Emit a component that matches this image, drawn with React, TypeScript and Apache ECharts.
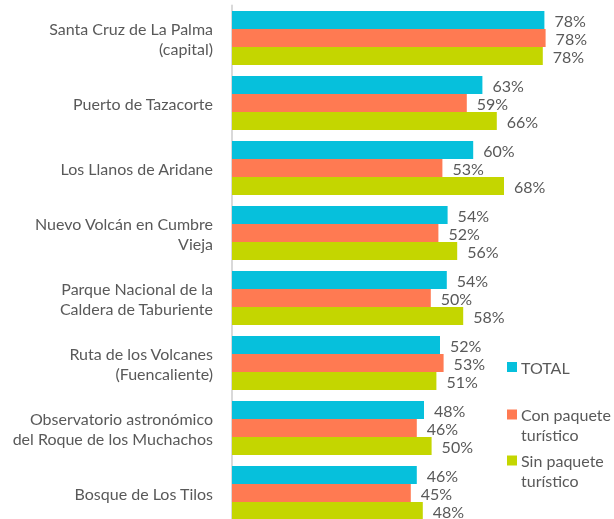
import React, { useEffect, useRef } from "react";
import * as echarts from "echarts";

const categories = [
  "Santa Cruz de La Palma\n(capital)",
  "Puerto de Tazacorte",
  "Los Llanos de Aridane",
  "Nuevo Volcán en Cumbre\nVieja",
  "Parque Nacional de la\nCaldera de Taburiente",
  "Ruta de los Volcanes\n(Fuencaliente)",
  "Observatorio astronómico\ndel Roque de los Muchachos",
  "Bosque de Los Tilos",
];

const seriesNames = ["TOTAL", "Con paquete turístico", "Sin paquete turístico"];
const legendLabels = ["TOTAL", "Con paquete\nturístico", "Sin paquete\nturístico"];

const totalValues = [78.1, 62.6, 60.3, 53.9, 53.7, 52.0, 48.0, 46.2];
const conPaqueteValues = [78.4, 58.7, 52.6, 51.6, 49.7, 52.9, 46.2, 44.7];
const sinPaqueteValues = [77.7, 66.2, 68.0, 56.3, 57.8, 51.1, 49.9, 47.7];

const colors = ["#06C0DC", "#FF7A52", "#C4D600"];
const textColor = "#595959";
const fontFamily = "Lato, 'Noto Sans', sans-serif";

export default function App() {
  const ref = useRef<HTMLDivElement>(null);

  useEffect(() => {
    if (!ref.current) return;
    const chart = echarts.init(ref.current, null, { renderer: "svg" });
    const allValues = [totalValues, conPaqueteValues, sinPaqueteValues];
    const legendY = [367, 414.5, 460.5];

    const graphic: any[] = [];
    legendLabels.forEach((lbl, i) => {
      graphic.push({
        type: "rect",
        left: 507,
        top: legendY[i] - 5,
        shape: { x: 0, y: 0, width: 10, height: 10 },
        style: { fill: colors[i] },
      });
      graphic.push({
        type: "text",
        left: 521,
        top: legendY[i] - 10,
        style: {
          text: lbl,
          fill: textColor,
          font: `16px ${fontFamily}`,
          lineHeight: 20,
          verticalAlign: "top",
        },
      });
    });

    chart.setOption({
      animation: false,
      textStyle: { fontFamily },
      grid: {
        left: 232,
        top: 5.5,
        width: 380,
        height: 520,
        outerBoundsMode: "none",
        containLabel: false,
      },
      xAxis: {
        type: "value",
        min: 0,
        max: 95,
        show: false,
      },
      yAxis: {
        type: "category",
        data: categories,
        inverse: true,
        offset: 1,
        axisLine: { show: true, lineStyle: { color: "#D9D9D9", width: 2 } },
        axisTick: { show: false },
        axisLabel: {
          margin: 18,
          color: textColor,
          fontSize: 16,
          lineHeight: 20,
          fontFamily,
          align: "right",
        },
        splitLine: { show: false },
      },
      series: seriesNames.map((name, i) => ({
        name,
        type: "bar",
        data: allValues[i],
        barWidth: 18,
        barGap: "0%",
        itemStyle: { color: colors[i] },
        label: {
          show: true,
          position: "right",
          distance: 10,
          color: textColor,
          fontSize: 16,
          fontFamily,
          formatter: (p: any) => `${Math.round(p.value)}%`,
        },
      })),
      graphic,
    });
    return () => chart.dispose();
  }, []);

  return (
    <div
      ref={ref}
      style={{ position: "fixed", left: 0, top: 0, width: 614, height: 519 }}
    />
  );
}
